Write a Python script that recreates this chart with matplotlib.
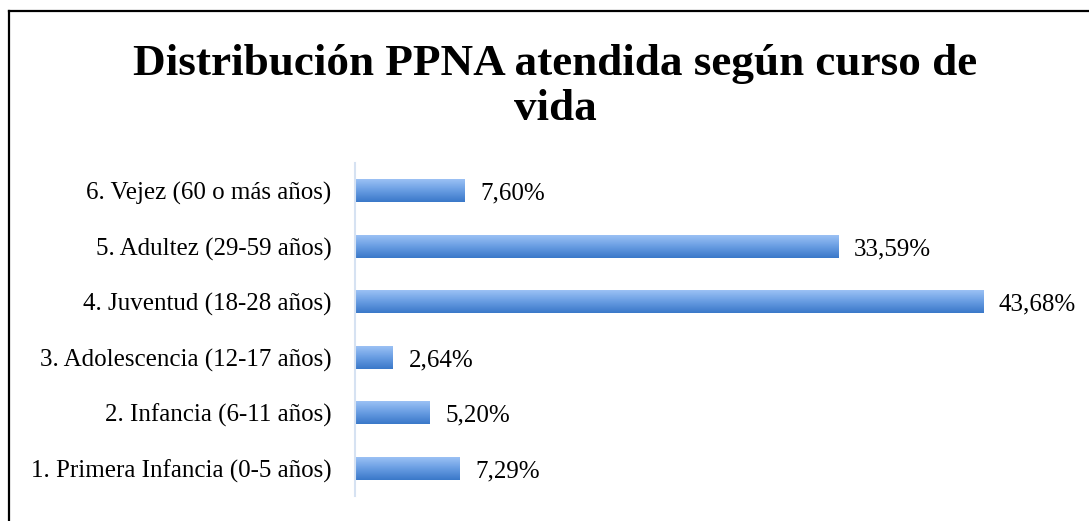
import matplotlib
matplotlib.use("Agg")
import matplotlib.pyplot as plt
import numpy as np
from matplotlib.colors import LinearSegmentedColormap
from matplotlib.lines import Line2D

# data
categorias = [
    "1. Primera Infancia (0-5 años)",
    "2. Infancia (6-11 años)",
    "3. Adolescencia (12-17 años)",
    "4. Juventud (18-28 años)",
    "5. Adultez (29-59 años)",
    "6. Vejez (60 o más años)",
]
porcentajes = [7.29, 5.20, 2.64, 43.68, 33.59, 7.60]
titulo = ["Distribución PPNA atendida según curso de", "vida"]

plt.rcParams['font.family'] = ['Liberation Serif', 'DejaVu Serif']

fig = plt.figure(figsize=(10.89, 5.21), dpi=100)
ax = fig.add_axes([355 / 1089, 25 / 521, 719 / 1089, 333 / 521])

pos = np.arange(len(categorias))
bars = ax.barh(pos, porcentajes, height=0.42, color='none', edgecolor='none')

# gradient fill, light on top, darker at the bottom
grad = LinearSegmentedColormap.from_list('azul', ['#3a78c9', '#6a9ee3', '#9fc4f6'])
g = np.linspace(0, 1, 64).reshape(-1, 1)
for b in bars:
    x0, y0 = b.get_x(), b.get_y()
    w, h = b.get_width(), b.get_height()
    im = ax.imshow(g, cmap=grad, aspect='auto', origin='lower',
                   extent=[x0, x0 + w, y0, y0 + h], zorder=2)
    im.set_clip_path(b)

for b, v in zip(bars, porcentajes):
    ax.text(b.get_width() + 1.1, b.get_y() + b.get_height() / 2 - 0.05,
            f"{v:.2f}%".replace('.', ','), va='center', ha='left', fontsize=18)

ax.set_xlim(0, 50)
ax.set_ylim(-0.5, len(categorias) - 0.5)
ax.set_yticks(pos)
ax.set_yticklabels(categorias, fontsize=18)
ax.set_xticks([])
ax.tick_params(axis='y', length=0, pad=17)
for s in ['top', 'right', 'bottom']:
    ax.spines[s].set_visible(False)
ax.spines['left'].set_color('#d6e2f2')
ax.spines['left'].set_linewidth(1.5)

fig.text(555 / 1089, 1 - 75 / 521, titulo[0], ha='center', va='baseline',
         fontsize=32.5, fontweight='bold')
fig.text(555 / 1089, 1 - 120 / 521, titulo[1], ha='center', va='baseline',
         fontsize=32.5, fontweight='bold')

# outer frame (only top and left visible in the crop)
fig.add_artist(Line2D([8.5 / 1089, 1.0], [1 - 10.5 / 521] * 2,
                      transform=fig.transFigure, color='black', lw=1.6))
fig.add_artist(Line2D([8.5 / 1089] * 2, [0, 1 - 10.5 / 521],
                      transform=fig.transFigure, color='black', lw=1.6))

fig.savefig("out.png", dpi=100)
